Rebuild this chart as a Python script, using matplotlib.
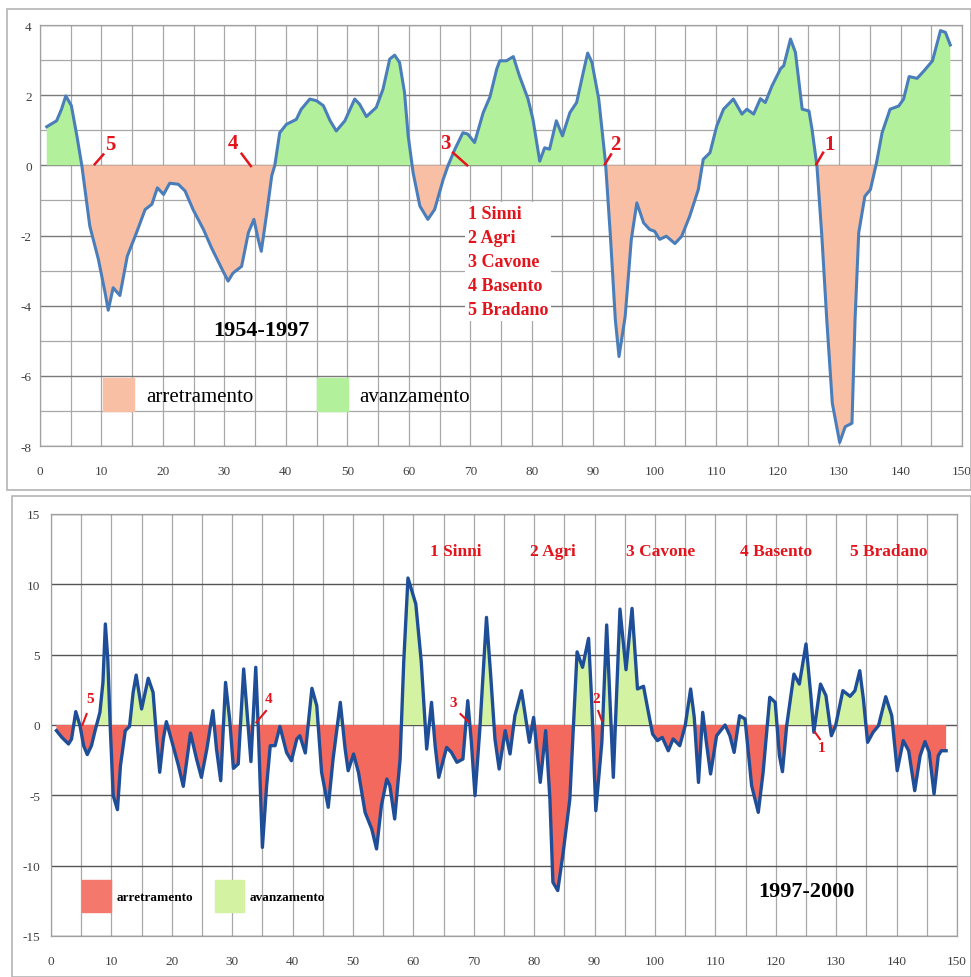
import numpy as np
import matplotlib.pyplot as plt
from matplotlib.patches import Patch, Rectangle
from matplotlib.ticker import MultipleLocator

plt.rcParams['font.family'] = ['Liberation Serif', 'DejaVu Serif']
plt.rcParams['axes.unicode_minus'] = False

# --- 1954-1997 -------------------------------------------------------------
x_top = [1.1, 2.7, 3.5, 4.2, 5.1, 6.0, 6.8, 8.1, 9.5, 10.6, 11.1, 11.9, 13.0, 14.2, 15.7,
         17.1, 18.2, 19.1, 20.1, 21.1, 22.5, 23.6, 24.9, 26.6, 27.9, 29.5, 30.6, 31.4, 32.8,
         33.9, 34.8, 35.5, 36.0, 36.9, 37.7, 38.2, 39.0, 40.1, 41.7, 42.5, 43.9, 45.0, 46.1,
         47.2, 48.2, 49.6, 51.2, 52.0, 53.1, 54.7, 55.8, 56.9, 57.7, 58.5, 59.3, 59.9, 60.7,
         61.8, 63.1, 64.2, 65.6, 66.4, 67.5, 68.8, 69.6, 70.7, 72.1, 73.2, 74.3, 74.8, 75.9,
         77.0, 78.0, 79.4, 80.2, 81.3, 82.1, 82.9, 84.0, 85.0, 86.2, 87.3, 88.5, 89.1, 89.8,
         90.9, 92.0, 92.8, 93.6, 94.2, 95.2, 96.2, 97.1, 98.2, 99.2, 100.0, 100.8, 101.9,
         103.3, 104.4, 105.7, 107.1, 107.9, 109.0, 110.1, 111.2, 112.8, 114.2, 115.0, 116.1,
         117.2, 118.0, 119.1, 120.5, 121.0, 122.1, 122.9, 124.0, 125.1, 125.6, 126.4, 127.2,
         128.0, 128.9, 130.1, 131.0, 132.1, 132.6, 133.2, 134.2, 135.1, 136.1, 137.0, 138.3,
         139.7, 140.5, 141.4, 142.7, 143.8, 145.2, 146.5, 147.3, 148.1]
y_top = [1.1, 1.27, 1.6, 1.98, 1.7, 0.84, 0.0, -1.73, -2.68, -3.64, -4.13, -3.49, -3.71, -2.59,
         -1.92, -1.26, -1.11, -0.64, -0.83, -0.51, -0.54, -0.73, -1.26, -1.83, -2.35, -2.92,
         -3.3, -3.07, -2.88, -1.92, -1.54, -2.11, -2.45, -1.35, -0.3, 0.0, 0.93, 1.17, 1.31,
         1.6, 1.89, 1.84, 1.7, 1.27, 0.98, 1.27, 1.89, 1.74, 1.39, 1.65, 2.17, 3.03, 3.14,
         2.93, 2.08, 0.84, -0.21, -1.16, -1.54, -1.26, -0.4, 0.0, 0.46, 0.93, 0.89, 0.65,
         1.5, 1.95, 2.74, 2.98, 2.98, 3.1, 2.55, 1.89, 1.31, 0.12, 0.5, 0.46, 1.27, 0.84,
         1.5, 1.79, 2.74, 3.2, 2.93, 1.89, 0.08, -2.02, -4.4, -5.45, -4.31, -2.11, -1.07,
         -1.64, -1.83, -1.88, -2.11, -2.02, -2.23, -2.02, -1.45, -0.69, 0.17, 0.36, 1.12,
         1.6, 1.89, 1.46, 1.6, 1.46, 1.9, 1.79, 2.27, 2.76, 2.84, 3.6, 3.22, 1.6, 1.55,
         1.03, -0.02, -2.02, -4.4, -6.78, -7.9, -7.45, -7.35, -4.4, -1.92, -0.88, -0.69,
         0.08, 0.93, 1.6, 1.69, 1.89, 2.53, 2.48, 2.69, 2.98, 3.84, 3.79, 3.43]

# --- 1997-2000 -------------------------------------------------------------
x_bot = [0.9, 1.8, 2.9, 3.4, 4.1, 4.8, 5.4, 6.0, 6.7, 7.3, 8.1, 8.6, 9.0, 9.4, 9.8, 10.3,
         11.0, 11.5, 12.3, 13.0, 13.6, 14.1, 15.0, 16.1, 16.9, 17.5, 18.0, 18.6, 19.1, 19.9,
         21.1, 21.9, 23.1, 24.1, 24.9, 25.8, 26.8, 27.4, 28.1, 28.9, 29.6, 30.2, 31.0, 31.9,
         32.5, 33.1, 33.9, 34.3, 35.0, 35.7, 36.3, 37.1, 37.9, 39.0, 39.8, 40.7, 41.2, 42.1,
         43.2, 44.0, 44.8, 45.9, 46.7, 47.9, 48.7, 49.2, 50.1, 50.9, 52.0, 53.1, 53.9, 54.7,
         55.6, 56.1, 56.9, 57.8, 58.4, 59.1, 60.4, 61.3, 62.2, 63.0, 63.6, 64.2, 65.5, 66.3,
         67.2, 68.2, 69.0, 69.6, 70.2, 71.0, 72.1, 72.8, 73.5, 74.2, 75.2, 76.0, 76.8, 77.9,
         79.2, 79.9, 81.0, 81.9, 82.6, 83.1, 83.9, 84.8, 85.9, 86.5, 87.1, 88.0, 89.0, 89.5,
         90.2, 91.2, 92.0, 93.1, 94.2, 95.2, 96.2, 97.1, 98.1, 98.8, 99.6, 100.4, 101.2,
         102.2, 103.0, 104.1, 105.0, 105.9, 106.5, 107.2, 107.9, 108.5, 109.2, 110.2, 111.6,
         112.4, 113.1, 114.0, 114.9, 116.0, 117.1, 117.9, 119.0, 119.9, 120.6, 121.1, 121.8,
         123.0, 123.9, 125.0, 125.8, 126.3, 127.4, 128.3, 129.2, 129.9, 131.1, 132.3, 133.1,
         133.9, 134.5, 135.2, 136.1, 137.0, 138.2, 139.2, 140.1, 141.1, 142.0, 143.0, 143.9,
         144.7, 145.4, 146.2, 146.9, 147.4, 148.2]
y_bot = [-0.4, -0.88, -1.35, -1.0, 0.95, -0.05, -1.47, -2.1, -1.47, -0.4, 0.9, 3.03, 7.18,
         4.7, -0.05, -5.02, -6.02, -2.89, -0.4, -0.1, 2.32, 3.55, 1.14, 3.32, 2.32, -0.99,
         -3.36, -0.99, 0.24, -0.99, -2.89, -4.36, -0.57, -2.42, -3.72, -1.71, 1.02, -1.71,
         -3.96, 3.03, 0.31, -3.08, -2.77, 3.98, 0.66, -2.6, 4.1, -0.05, -8.7, -4.31, -1.47,
         -1.47, -0.1, -1.95, -2.54, -0.99, -0.76, -1.99, 2.61, 1.37, -3.36, -5.85, -2.42,
         1.61, -1.71, -3.25, -2.06, -3.36, -6.21, -7.39, -8.81, -5.73, -3.84, -4.31, -6.68,
         -2.42, 4.5, 10.45, 8.6, 4.5, -1.71, 1.61, -1.47, -3.72, -1.59, -1.95, -2.65, -2.42,
         1.73, -1.23, -5.02, -0.28, 7.65, 3.5, -0.99, -3.13, -0.4, -2.06, 0.66, 2.44, -1.23,
         0.54, -4.08, -0.4, -5.26, -11.18, -11.77, -9.05, -5.26, -0.05, 5.2, 4.1, 6.16, 1.85,
         -6.09, -1.23, 7.11, -3.72, 8.24, 3.93, 8.29, 2.56, 2.75, 1.14, -0.64, -1.11, -0.88,
         -1.83, -0.99, -1.47, -0.05, 2.56, 0.54, -4.08, 0.9, -1.23, -3.48, -0.76, 0.0, -0.76,
         -1.95, 0.66, 0.43, -4.31, -6.21, -3.36, 1.97, 1.61, -2.18, -3.32, -0.05, 3.62, 2.91,
         5.76, 2.09, -0.52, 2.91, 2.09, -0.76, -0.05, 2.44, 2.04, 2.44, 3.86, 1.85, -1.23,
         -0.52, -0.05, 2.01, 0.66, -3.25, -1.11, -1.83, -4.67, -2.18, -1.18, -1.95, -4.9,
         -2.18, -1.83, -1.83]

rivers = ['1 Sinni', '2 Agri', '3 Cavone', '4 Basento', '5 Bradano']
legend_labels = ['arretramento', 'avanzamento']

# river number marks: label, line start, line end, text position
marks_top = [('5', (8.9, 0.03), (10.3, 0.31), (11.5, 0.62)),
             ('4', (34.3, -0.02), (32.8, 0.33), (31.4, 0.65)),
             ('3', (69.5, 0.0), (67.2, 0.36), (65.9, 0.65)),
             ('2', (91.9, 0.03), (92.9, 0.31), (93.6, 0.62)),
             ('1', (126.3, 0.03), (127.4, 0.36), (128.5, 0.62))]
marks_bot = [('5', (5.2, 0.0), (5.9, 0.78), (6.5, 1.85)),
             ('4', (34.0, 0.19), (35.6, 1.0), (36.0, 1.85)),
             ('3', (69.1, 0.24), (67.8, 0.78), (66.6, 1.6)),
             ('2', (91.2, 0.3), (90.6, 1.0), (90.3, 1.9)),
             ('1', (126.5, -0.52), (127.3, -1.0), (127.6, -1.6))]
river_x_bot = [67, 83.1, 101, 120, 138.7]

RED = '#e3141c'

W, H = 971, 978
fig = plt.figure(figsize=(W / 100, H / 100), dpi=100)

# chart area frames
for (l, t, r, b) in [(7, 10, 971, 491), (12, 497, 971, 978)]:
    fig.patches.append(Rectangle((l / W, 1 - b / H), (r - l) / W, (b - t) / H,
                                 transform=fig.transFigure, fill=False,
                                 edgecolor='#b4b4b4', lw=1.2))


def style_axes(ax, ymin, ymax, ymaj, ymin_step, hcolor, ypad):
    ax.set_xlim(0, 150)
    ax.set_ylim(ymin, ymax)
    ax.xaxis.set_major_locator(MultipleLocator(10))
    ax.xaxis.set_minor_locator(MultipleLocator(5))
    ax.yaxis.set_major_locator(MultipleLocator(ymaj))
    ax.yaxis.set_minor_locator(MultipleLocator(ymin_step))
    ax.grid(True, axis='x', which='both', color='#a8a8a8', lw=0.9)
    ax.grid(True, axis='y', which='major', color=hcolor, lw=1.0)
    ax.grid(True, axis='y', which='minor', color='#a8a8a8', lw=0.9)
    ax.set_axisbelow(True)
    ax.tick_params(which='both', length=0, labelsize=9.5, labelcolor='#404040')
    ax.tick_params(axis='x', pad=13.5)
    ax.tick_params(axis='y', pad=ypad)
    for s in ax.spines.values():
        s.set_color('#a0a0a0')
        s.set_linewidth(0.9)


# ---------------- top panel ----------------
ax1 = fig.add_axes([40 / W, 1 - 447 / H, 922 / W, 421 / H])
style_axes(ax1, -8, 4, 2, 1, '#7a7a7a', 6)
xt = np.array(x_top)
yt = np.array(y_top)
ax1.fill_between(xt, yt, 0, where=yt >= 0, interpolate=True, color='#b3f09b', lw=0)
ax1.fill_between(xt, yt, 0, where=yt <= 0, interpolate=True, color='#f8bfa5', lw=0)
ax1.plot(xt, yt, color='#4a7ebb', lw=2.2, solid_joinstyle='round')

for lab, p0, p1, pt in marks_top:
    ax1.plot([p0[0], p1[0]], [p0[1], p1[1]], color=RED, lw=1.8)
    ax1.text(pt[0], pt[1], lab, color=RED, fontsize=15, fontweight='bold',
             ha='center', va='center')

ax1.text(69.6, -1.13, '\n'.join(rivers), color=RED, fontsize=13, fontweight='bold',
         ha='left', va='top', linespacing=1.54,
         bbox=dict(facecolor='white', edgecolor='none', pad=2))
ax1.text(36, -4.7, '1954-1997', fontsize=16, fontweight='bold', ha='center', va='center')

h1 = [Patch(color='#f8bfa5'), Patch(color='#b3f09b')]
ax1.legend(h1, legend_labels, ncol=2, loc='upper left', bbox_to_anchor=(0.068, 0.162),
           frameon=False, fontsize=15, handlelength=1.49, handleheight=2.1,
           handletextpad=0.58, columnspacing=3.05, borderpad=0, borderaxespad=0)

# ---------------- bottom panel ----------------
ax2 = fig.add_axes([51 / W, 1 - 937 / H, 906 / W, 422 / H])
style_axes(ax2, -15, 15, 5, 5, '#555555', 8)
xb = np.array(x_bot)
yb = np.array(y_bot)
ax2.fill_between(xb, yb, 0, where=yb >= 0, interpolate=True, color='#d3f3a2', lw=0)
ax2.fill_between(xb, yb, 0, where=yb <= 0, interpolate=True, color='#f4695d', lw=0)
ax2.plot(xb, yb, color='#1f4e99', lw=2.4, solid_joinstyle='round')

for lab, p0, p1, pt in marks_bot:
    ax2.plot([p0[0], p1[0]], [p0[1], p1[1]], color=RED, lw=1.5)
    ax2.text(pt[0], pt[1], lab, color=RED, fontsize=11, fontweight='bold',
             ha='center', va='center')

for name, xr in zip(rivers, river_x_bot):
    ax2.text(xr, 12.4, name, color=RED, fontsize=12.5, fontweight='bold',
             ha='center', va='center')
ax2.text(125.1, -11.8, '1997-2000', fontsize=16, fontweight='bold', ha='center', va='center')

h2 = [Patch(color='#f4786c'), Patch(color='#d3f3a2')]
ax2.legend(h2, legend_labels, ncol=2, loc='upper left', bbox_to_anchor=(0.034, 0.133),
           frameon=False, prop=dict(size=9.5, weight='bold'), handlelength=2.2,
           handleheight=3.4, handletextpad=0.45, columnspacing=1.6, borderpad=0,
           borderaxespad=0)

plt.savefig('out.png', dpi=100)
plt.close()
